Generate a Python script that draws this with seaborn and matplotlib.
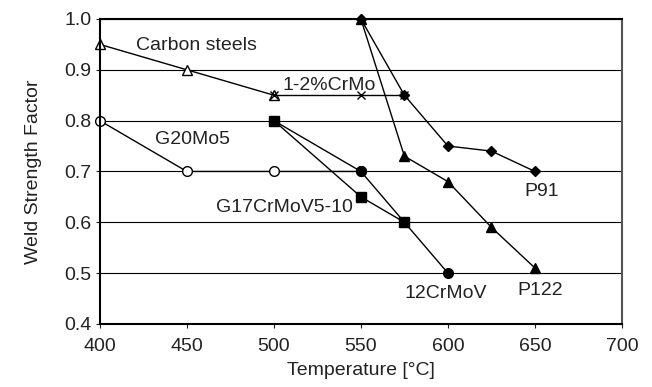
import numpy as np
import pandas as pd
import matplotlib
matplotlib.use('Agg')
import matplotlib.pyplot as plt
import seaborn as sns

sns.set_style('white')
plt.rcParams['font.family'] = ['Liberation Sans', 'DejaVu Sans']

# series
carbon_T = [400, 450, 500]
carbon_f = [0.95, 0.90, 0.85]
crmo_T = [500, 550, 575]
crmo_f = [0.85, 0.85, 0.85]
g20_T = [400, 450, 500, 550]
g20_f = [0.80, 0.70, 0.70, 0.70]
g17_T = [500, 550, 575]
g17_f = [0.80, 0.65, 0.60]
crmov_T = [500, 550, 575, 600]
crmov_f = [0.80, 0.70, 0.60, 0.50]
p122_T = [550, 575, 600, 625, 650]
p122_f = [1.00, 0.73, 0.68, 0.59, 0.51]
p91_T = [550, 575, 600, 625, 650]
p91_f = [1.00, 0.85, 0.75, 0.74, 0.70]

labels = ['Carbon steels', '1-2%CrMo', 'G20Mo5', 'G17CrMoV5-10', '12CrMoV', 'P122', 'P91']
label_x = [421, 505, 432, 467, 575, 640, 644]
label_y = [0.947, 0.87, 0.762, 0.63, 0.46, 0.465, 0.66]

fig = plt.figure(figsize=(6.52, 3.87), dpi=100)
ax = fig.add_axes([0.153, 0.163, 0.801, 0.788])

ax.grid(axis='y', color='black', linewidth=0.8)
ax.set_axisbelow(True)

series = [
    (carbon_T, carbon_f, '^', 'white', 7.5),
    (g20_T, g20_f, 'o', 'white', 7),
    (crmo_T, crmo_f, 'x', 'black', 6),
    (crmov_T, crmov_f, 'o', 'black', 7),
    (g17_T, g17_f, 's', 'black', 7),
    (p122_T, p122_f, '^', 'black', 7.5),
    (p91_T, p91_f, 'D', 'black', 5),
]
for T, f, m, fc, ms in series:
    sns.lineplot(x=T, y=f, ax=ax, color='black', linewidth=1.0, marker=m,
                 markersize=ms, markerfacecolor=fc, markeredgecolor='black',
                 markeredgewidth=1.0, clip_on=False)

for lab, lx, ly in zip(labels, label_x, label_y):
    ax.text(lx, ly, lab, fontsize=14, color='#222222', va='center', ha='left')

ax.set_xlim(400, 700)
ax.set_ylim(0.4, 1.0)
ax.set_xticks(np.arange(400, 701, 50))
ax.set_yticks(np.arange(0.4, 1.01, 0.1))
ax.set_yticklabels([f'{v:.1f}' for v in np.arange(0.4, 1.01, 0.1)])
ax.tick_params(labelsize=14, colors='#222222', length=3, direction='out',
               left=True, bottom=True)
ax.tick_params(axis='x', pad=7)
ax.tick_params(axis='y', pad=3)

for side in ['left', 'bottom', 'top']:
    ax.spines[side].set_color('black')
    ax.spines[side].set_linewidth(1.5)
ax.spines['right'].set_color('#555555')
ax.spines['right'].set_linewidth(1.5)

ax.set_xlabel('Temperature [°C]', fontsize=14, color='#222222', labelpad=5)
ax.set_ylabel('Weld Strength Factor', fontsize=14, color='#222222', labelpad=16)

fig.savefig('out.png', dpi=100)
